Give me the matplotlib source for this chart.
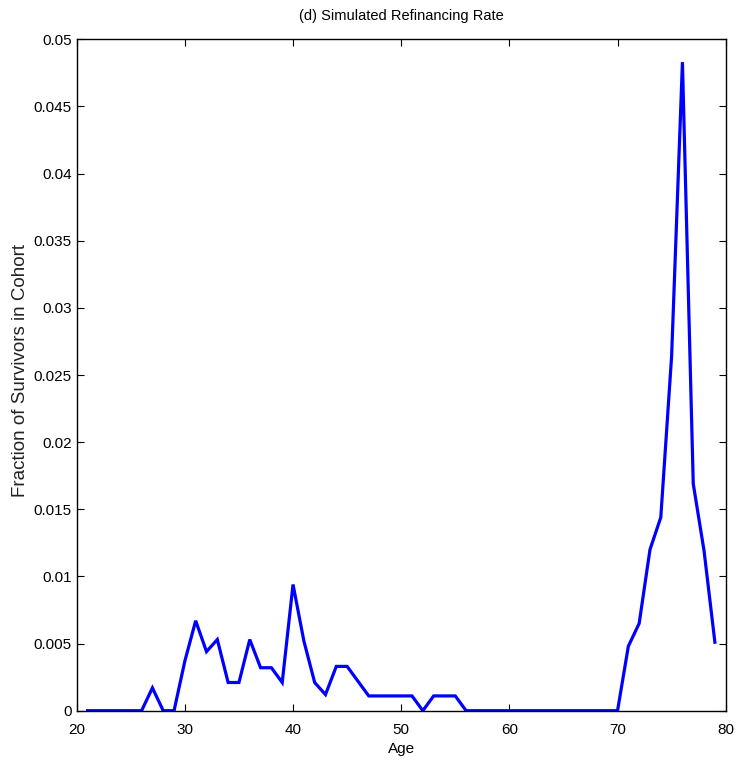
import numpy as np
import matplotlib
matplotlib.use('Agg')
import matplotlib.pyplot as plt

plt.rcParams['font.family'] = ['Liberation Sans', 'DejaVu Sans']

# simulated refinancing rate by age
age = list(range(21, 80))
refi = [0, 0, 0, 0, 0, 0,                                   # 21-26
        0.0017, 0, 0, 0.0037, 0.0067, 0.0044, 0.0053,      # 27-33
        0.0021, 0.0021, 0.0053, 0.0032, 0.0032, 0.0021,    # 34-39
        0.0094, 0.0052, 0.0021, 0.0012, 0.0033, 0.0033,    # 40-45
        0.0022, 0.0011, 0.0011, 0.0011, 0.0011, 0.0011,    # 46-51
        0, 0.0011, 0.0011, 0.0011,                         # 52-55
        0, 0, 0, 0, 0, 0, 0, 0, 0, 0, 0, 0, 0, 0, 0,       # 56-70
        0.0048, 0.0065, 0.0120, 0.0144, 0.0264, 0.0483,    # 71-76
        0.0169, 0.0119, 0.0051]                            # 77-79

xticks = [20, 30, 40, 50, 60, 70, 80]
yticks = [0, 0.005, 0.01, 0.015, 0.02, 0.025, 0.03, 0.035, 0.04, 0.045, 0.05]

fig = plt.figure(figsize=(7.51, 7.64), dpi=100)
ax = fig.add_axes([76.7/751, 1 - 710.7/764, 649/751, 671.4/764])

ax.plot(age, refi, color='#0000ff', linewidth=2.3, solid_joinstyle='miter')

ax.set_xlim(20, 80)
ax.set_ylim(0, 0.05)
ax.set_xticks(xticks)
ax.set_yticks(yticks)
ax.set_xticklabels([str(t) for t in xticks])
ax.set_yticklabels(['%g' % t for t in yticks])
ax.tick_params(direction='in', top=True, right=True, length=5, width=0.8,
               labelsize=11)
ax.tick_params(axis='x', pad=8.5)
ax.tick_params(axis='y', pad=3.5)
for s in ax.spines.values():
    s.set_linewidth(1.0)

ax.set_xlabel('Age', fontsize=11, labelpad=4)
ax.set_ylabel('Fraction of Survivors in Cohort', fontsize=13.5, color='#222222')
ax.yaxis.set_label_coords(-0.074, 0.507)
ax.set_title('(d) Simulated Refinancing Rate', fontsize=10.5, pad=14)

plt.savefig('out.png', dpi=100)
plt.close()
